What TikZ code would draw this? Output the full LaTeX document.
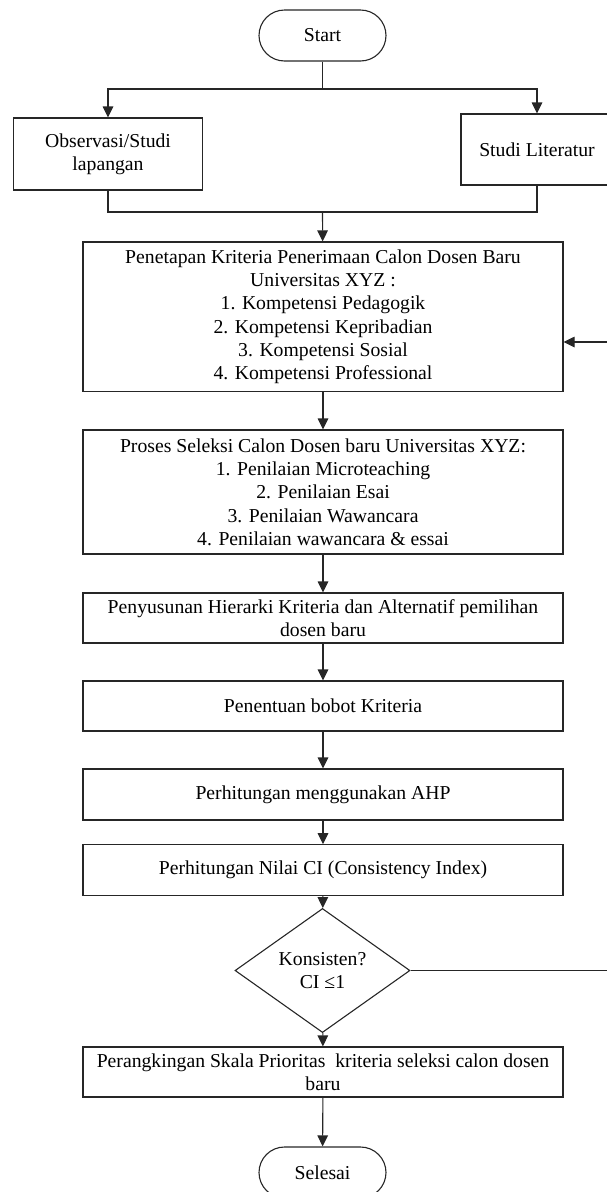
\documentclass[tikz,border=0pt]{standalone}
\usepackage{fontspec}
\setmainfont{Liberation Serif}
\usetikzlibrary{arrows.meta,shapes.geometric}
\begin{document}
\begin{tikzpicture}[x=1pt,y=-1pt,
  every node/.style={font=\fontsize{19.7}{23.3}\selectfont, align=center, inner sep=0pt},
  box/.style={draw=black!85, line width=1.1pt, rectangle, minimum width=480pt},
  term/.style={draw=black!85, line width=1.1pt, rectangle, rounded corners=25.5pt, minimum width=127pt, minimum height=51pt},
  dec/.style={draw=black!85, line width=1.1pt, diamond, minimum width=175pt, minimum height=105pt},
  conn/.style={draw=black!85, line width=1.1pt},
  arr/.style={conn, -{Triangle[width=10.5pt,length=11pt]}}]
\useasboundingbox (0,0) rectangle (607,1192);
\clip (0,0) rectangle (607,1192);

\node[term] (start) at (322.5,35.5) {Start};
\node[box, minimum width=189.5pt, minimum height=72pt] (obs) at (108,154) {Observasi/Studi\\lapangan};
\node[box, minimum width=152pt, minimum height=71pt] (lit) at (537,149.5) {Studi Literatur};
\node[box, minimum height=149.5pt] (b3) at (323,316.75) {Penetapan Kriteria Penerimaan Calon Dosen Baru\\Universitas XYZ :\\1. Kompetensi Pedagogik\\2. Kompetensi Kepribadian\\3. Kompetensi Sosial\\4. Kompetensi Professional};
\node[box, minimum height=124pt] (b4) at (323,492) {Proses Seleksi Calon Dosen baru Universitas XYZ:\\1. Penilaian Microteaching\\2. Penilaian Esai\\3. Penilaian Wawancara\\4. Penilaian wawancara \& essai};
\node[box, minimum height=50pt] (b5) at (323,618) {Penyusunan Hierarki Kriteria dan Alternatif pemilihan\\dosen baru};
\node[box, minimum height=50pt] (b6) at (323,706) {Penentuan bobot Kriteria};
\node[box, minimum height=51pt] (b7) at (323,794.5) {Perhitungan menggunakan AHP};
\node[box, minimum height=50.5pt] (b8) at (323,870) {Perhitungan Nilai CI (Consistency Index)};
\node[dec] (d) at (322.5,970.5) {Konsisten?\\CI ≤1};
\node[box, minimum height=50pt] (b9) at (323,1072) {Perangkingan Skala Prioritas\ \ kriteria seleksi calon dosen\\baru};
\node[term] (end) at (322.5,1172.5) {Selesai};

\coordinate (sp) at (322.5,89);
\coordinate (mg) at (322.5,212);
\coordinate (fa) at (625,970.5);
\coordinate (fb) at (625,342);

\draw[conn] (start) -- (sp);
\draw[arr] (sp) -| (obs);
\draw[arr] (sp) -| (lit);
\draw[conn] (obs) |- (mg);
\draw[conn] (lit) |- (mg);
\draw[arr] (mg) -- (b3);
\draw[arr] (b3) -- (b4);
\draw[arr] (b4) -- (b5);
\draw[arr] (b5) -- (b6);
\draw[arr] (b6) -- (b7);
\draw[arr] (b7) -- (b8);
\draw[arr] (b8) -- (d);
\draw[arr] (d) -- (b9);
\draw[arr] (b9) -- (end);
\draw[arr] (d.east) -- (fa) -- (fb) -- (b3.east |- fb);
\end{tikzpicture}
\end{document}
